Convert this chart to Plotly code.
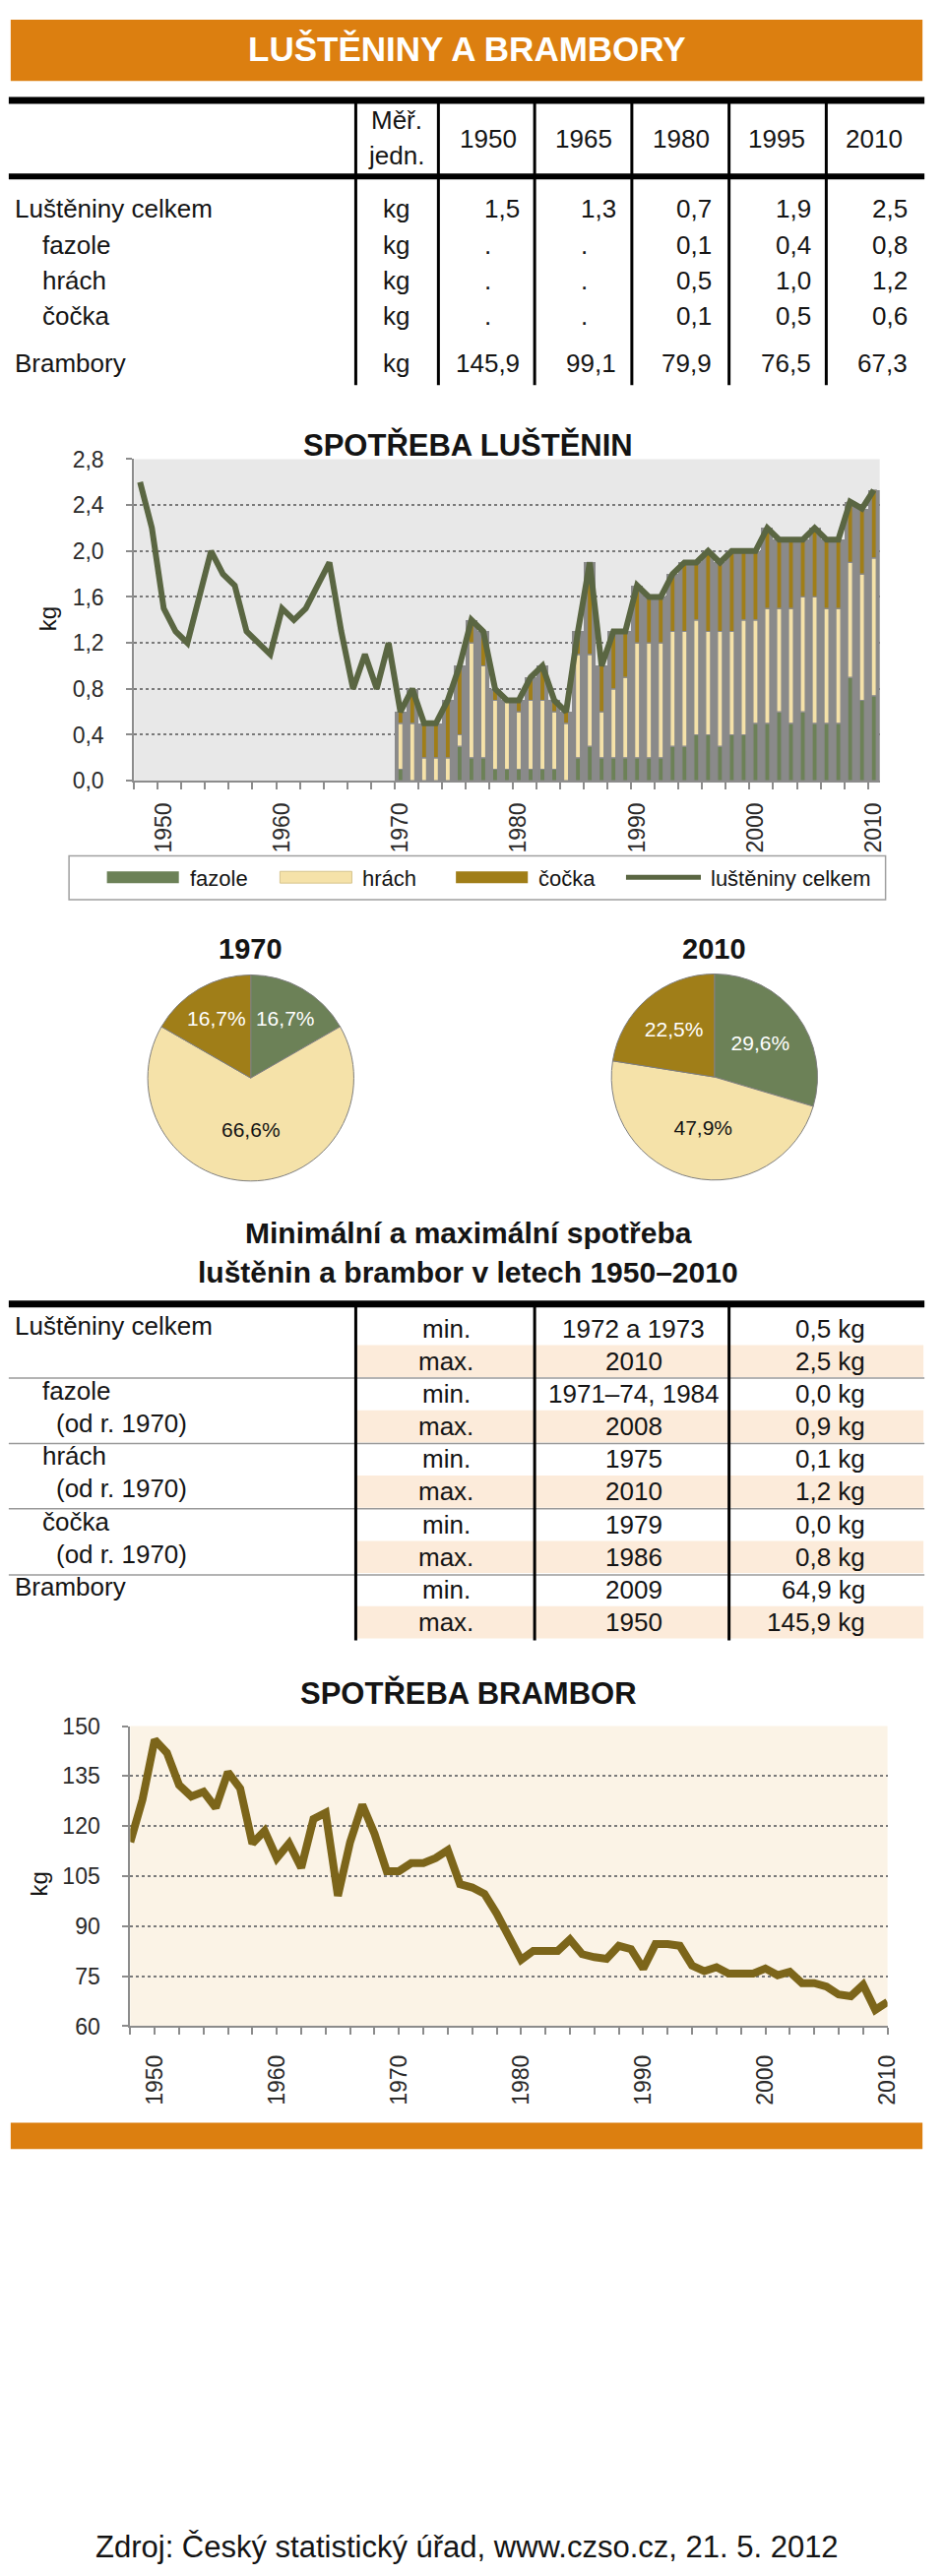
import plotly.graph_objects as go

# ---------------- DATA ----------------
# Table 1
t1_years = ["1950", "1965", "1980", "1995", "2010"]
t1_rows = ["Luštěniny celkem", "fazole", "hrách", "čočka", "Brambory"]
t1_indent = [False, True, True, True, False]
t1_unit = "kg"
t1_values = [
    [1.5, 1.3, 0.7, 1.9, 2.5],
    [None, None, 0.1, 0.4, 0.8],
    [None, None, 0.5, 1.0, 1.2],
    [None, None, 0.1, 0.5, 0.6],
    [145.9, 99.1, 79.9, 76.5, 67.3],
]

# Legumes total 1948-2010 (kg)
total_years = list(range(1948, 2011))
legumes_total = [2.6, 2.2, 1.5, 1.3, 1.2, 1.6, 2.0, 1.8, 1.7, 1.3,
                 1.2, 1.1, 1.5, 1.4, 1.5, 1.7, 1.9, 1.3, 0.8, 1.1,
                 0.8, 1.2, 0.6, 0.8, 0.5, 0.5, 0.7, 1.0, 1.4, 1.3,
                 0.8, 0.7, 0.7, 0.9, 1.0, 0.7, 0.6, 1.3, 1.9, 1.0,
                 1.3, 1.3, 1.7, 1.6, 1.6, 1.8, 1.9, 1.9, 2.0, 1.9,
                 2.0, 2.0, 2.0, 2.2, 2.1, 2.1, 2.1, 2.2, 2.1, 2.1,
                 2.43, 2.37, 2.53]

# Components 1970-2010 (kg)
bar_years = list(range(1970, 2011))
fazole = [0.1, 0.0, 0.0, 0.0, 0.0, 0.3, 0.2, 0.2, 0.1, 0.1,
          0.1, 0.1, 0.1, 0.1, 0.0, 0.2, 0.3, 0.2, 0.2, 0.2,
          0.2, 0.2, 0.2, 0.3, 0.3, 0.4, 0.4, 0.3, 0.4, 0.4,
          0.5, 0.5, 0.6, 0.5, 0.6, 0.5, 0.5, 0.5, 0.9, 0.7, 0.74]
hrach = [0.4, 0.5, 0.2, 0.2, 0.2, 0.1, 1.0, 0.8, 0.6, 0.6,
         0.5, 0.6, 0.6, 0.5, 0.5, 0.9, 0.8, 0.4, 0.6, 0.7,
         1.0, 1.0, 1.0, 1.0, 1.0, 1.0, 0.9, 1.0, 0.9, 1.0,
         0.9, 1.0, 0.9, 1.0, 1.0, 1.1, 1.0, 1.0, 1.0, 1.1, 1.2]
cocka = [0.1, 0.3, 0.3, 0.3, 0.5, 0.6, 0.2, 0.3, 0.1, 0.0,
         0.1, 0.2, 0.3, 0.1, 0.1, 0.2, 0.8, 0.4, 0.5, 0.4,
         0.5, 0.4, 0.4, 0.5, 0.6, 0.5, 0.7, 0.6, 0.7, 0.6,
         0.6, 0.7, 0.6, 0.6, 0.5, 0.6, 0.6, 0.6, 0.53, 0.57, 0.59]
legend_names = ["fazole", "hrách", "čočka", "luštěniny celkem"]

# Pies (shares, %)
pie_titles = ["1970", "2010"]
pie_1970 = [16.7, 66.6, 16.7]
pie_2010 = [29.6, 47.9, 22.5]

# Min / max table
mm_title = ["Minimální a maximální spotřeba", "luštěnin a brambor v letech 1950–2010"]
mm_labels = ["Luštěniny celkem", "", "fazole", "(od r. 1970)", "hrách", "(od r. 1970)",
             "čočka", "(od r. 1970)", "Brambory", ""]
mm_level = [0, 0, 1, 2, 1, 2, 1, 2, 0, 0]
mm_kind = ["min.", "max."] * 5
mm_years = ["1972 a 1973", "2010", "1971–74, 1984", "2008", "1975", "2010",
            "1979", "1986", "2009", "1950"]
mm_values = [0.5, 2.5, 0.0, 0.9, 0.1, 1.2, 0.0, 0.8, 64.9, 145.9]

# Potatoes 1948-2010 (kg)
potato_years = list(range(1948, 2011))
potatoes = [115.2, 127.9, 145.9, 142.0, 132.3, 128.9, 130.3, 125.5, 136.2, 131.3,
            114.8, 118.6, 110.4, 114.8, 107.5, 122.1, 124.0, 99.1, 115.2, 126.4,
            117.7, 106.5, 106.5, 108.9, 108.9, 110.4, 112.8, 102.6, 101.6, 99.7,
            93.8, 86.5, 79.9, 82.6, 82.6, 82.6, 86.0, 81.6, 80.7, 80.2,
            84.1, 83.1, 77.3, 84.6, 84.6, 84.1, 78.2, 76.5, 77.7, 75.8,
            75.8, 75.8, 77.3, 75.3, 76.3, 72.9, 72.9, 71.9, 69.5, 69.0,
            72.4, 64.9, 67.3]

main_title = "LUŠTĚNINY A BRAMBORY"
chart1_title = "SPOTŘEBA LUŠTĚNIN"
chart2_title = "SPOTŘEBA BRAMBOR"
source_text = "Zdroj: Český statistický úřad, www.czso.cz, 21. 5. 2012"

# ---------------- STYLE ----------------
W, H = 960, 2617
FONT = "Liberation Sans, Arial, sans-serif"
ORANGE = "#DC7F10"
GREEN = "#6C8157"
BEIGE = "#F5E2A9"
OLIVE = "#A07E18"
LINEG = "#5A6642"
POT = "#7C651A"
GRAYBAR = "#8A8A8A"
BG1 = "#E8E8E8"
BG2 = "#FBF3E6"
SHADE = "#FCEBDA"
AX = "#8C8C8C"
TXT = "#141414"
TS = 26  # table font size


def px(x):
    return x / W


def py(y):
    return 1 - y / H


def fmt(v):
    return f"{v:.1f}".replace(".", ",")


annotations = []
shapes = []


def text(x, y, s, size=TS, bold=False, color=TXT, anchor="left", angle=0):
    annotations.append(dict(
        x=px(x), y=py(y), xref="paper", yref="paper",
        text=f"<b>{s}</b>" if bold else s, showarrow=False,
        xanchor=anchor, yanchor="middle", textangle=angle,
        font=dict(size=size, color=color, family=FONT)))


def line(x0, y0, x1, y1, w, color):
    shapes.append(dict(type="line", xref="paper", yref="paper",
                       x0=px(x0), y0=py(y0), x1=px(x1), y1=py(y1),
                       line=dict(color=color, width=w)))


def rect(x0, y0, x1, y1, fill, lc=None, lw=0):
    shapes.append(dict(type="rect", xref="paper", yref="paper",
                       x0=px(x0), y0=py(y0), x1=px(x1), y1=py(y1),
                       fillcolor=fill, line=dict(color=lc or fill, width=lw)))


# ---------------- HEADER ----------------
rect(11, 7, 949, 70, ORANGE)
text(480, 37, main_title, size=35, bold=True, color="white", anchor="center")

# ---------------- TABLE 1 ----------------
line(9, 90, 951, 90, 7, "#000")
line(9, 168, 951, 168, 6, "#000")
for vx in [366, 451, 550, 650, 750, 850]:
    line(vx, 93, vx, 382, 3, "#000")
text(408, 110, "Měř.", anchor="center")
text(408, 146, "jedn.", anchor="center")
col_centers = [502, 601, 701, 799, 899]
col_right = [537, 636, 734, 836, 936]
for cx, yr in zip(col_centers, t1_years):
    text(cx, 129, yr, anchor="center")
row_y = [201, 238, 275, 311, 360]
for ry, name, ind, vals in zip(row_y, t1_rows, t1_indent, t1_values):
    text(42 if ind else 13, ry, name)
    text(408, ry, t1_unit, anchor="center")
    for cx, rx, v in zip(col_centers, col_right, vals):
        if v is None:
            text(cx, ry, ".", anchor="center")
        else:
            text(rx, ry, fmt(v), anchor="right")

# ---------------- CHART 1 ----------------
text(482, 443, chart1_title, size=31, bold=True, anchor="center")
text(49, 622, "kg", size=24, angle=-90, anchor="center")
shapes.append(dict(type="rect", xref="x domain", yref="y domain", x0=0, x1=1, y0=0, y1=1,
                   fillcolor=BG1, line=dict(width=0), layer="below"))

bar_tot = [f + h + c for f, h, c in zip(fazole, hrach, cocka)]
base_h = list(fazole)
base_c = [f + h for f, h in zip(fazole, hrach)]

traces = []
traces.append(go.Bar(x=bar_years, y=bar_tot, width=1.0, marker=dict(color=GRAYBAR, line=dict(width=0)),
                     xaxis="x", yaxis="y", hoverinfo="skip"))
for vals, base, col, nm in [(fazole, [0] * len(fazole), GREEN, legend_names[0]),
                            (hrach, base_h, BEIGE, legend_names[1]),
                            (cocka, base_c, OLIVE, legend_names[2])]:
    traces.append(go.Bar(x=bar_years, y=vals, base=base, width=0.42, name=nm,
                         marker=dict(color=col, line=dict(color=GRAYBAR, width=1.2)),
                         xaxis="x", yaxis="y"))
traces.append(go.Scatter(x=total_years, y=legumes_total, mode="lines", name=legend_names[3],
                         line=dict(color=LINEG, width=6), xaxis="x", yaxis="y"))

# custom legend
rect(71, 865, 911, 910, "white", "#A0A0A0", 1.5)
rect(110, 881, 184, 893, GREEN)
rect(288, 881, 362, 893, BEIGE, "#D6C48E", 1)
rect(469, 881, 543, 893, OLIVE)
line(644, 887, 721, 887, 5, LINEG)
for lx, nm in zip([193, 371, 552, 729], legend_names):
    text(lx, 888, nm, size=22)

# ---------------- PIES ----------------
pie_cols = [GREEN, BEIGE, OLIVE]
pie_txt = ["white", TXT, "white"]
R = 106
for (cx, cy), vals, ttl in [((258, 1093), pie_1970, pie_titles[0]), ((735, 1092), pie_2010, pie_titles[1])]:
    text(cx, 961, ttl, size=29, bold=True, anchor="center")
    traces.append(go.Pie(values=vals, labels=legend_names[:3], sort=False, direction="clockwise",
                         rotation=0, marker=dict(colors=pie_cols, line=dict(color="#7F7F7F", width=1)),
                         textinfo="none", texttemplate="%{value:.1f}%", textposition="inside",
                         insidetextorientation="horizontal",
                         textfont=dict(size=21, color=pie_txt, family=FONT),
                         domain=dict(x=[px(cx - R), px(cx + R)], y=[py(cy + R), py(cy - R)]),
                         showlegend=False, hoverinfo="skip"))

# ---------------- MIN / MAX TABLE ----------------
text(482, 1252, mm_title[0], size=30, bold=True, anchor="center")
text(482, 1292, mm_title[1], size=30, bold=True, anchor="center")
mm_y0, mm_step = 1350, 33.5
for i in range(len(mm_labels)):
    ry = mm_y0 + i * mm_step
    if mm_kind[i] == "max.":
        rect(367, ry - 16.5, 950, ry + 16.5, SHADE)
for sy in [1401, 1468, 1535, 1603]:
    line(9, sy, 951, sy, 1.5, "#9A9A9A")
line(9, 1325, 951, 1325, 7, "#000")
for vx in [366, 550, 750]:
    line(vx, 1328, vx, 1670, 3, "#000")
lvl_x = [13, 42, 56]
for i in range(len(mm_labels)):
    ry = mm_y0 + i * mm_step
    if mm_labels[i]:
        text(lvl_x[mm_level[i]], ry - 3, mm_labels[i])
    text(459, ry, mm_kind[i], anchor="center")
    text(652, ry, mm_years[i], anchor="center")
    text(892, ry, fmt(mm_values[i]) + " kg", anchor="right")

# ---------------- CHART 2 ----------------
text(482, 1724, chart2_title, size=31, bold=True, anchor="center")
text(40, 1920, "kg", size=24, angle=-90, anchor="center")
shapes.append(dict(type="rect", xref="x2 domain", yref="y2 domain", x0=0, x1=1, y0=0, y1=1,
                   fillcolor=BG2, line=dict(width=0), layer="below"))
traces.append(go.Scatter(x=potato_years, y=potatoes, mode="lines",
                         line=dict(color=POT, width=8), xaxis="x2", yaxis="y2"))

# ---------------- FOOTER ----------------
rect(11, 2165, 949, 2192, ORANGE)
text(480, 2600, source_text, size=31, anchor="center")

# ---------------- AXES ----------------
decades = list(range(1950, 2011, 10))
tickfont = dict(size=23, color="#2A2A2A", family=FONT)
yfont = dict(size=23, color="#2A2A2A", family=FONT)

xaxis1 = dict(domain=[px(138), px(905)], range=[1947.5, 2010.5], anchor="y",
              tickmode="array", tickvals=decades, ticktext=[str(d) for d in decades],
              tickangle=-90, ticks="", showline=True, linecolor=AX, linewidth=2,
              showgrid=False, zeroline=False, tickfont=tickfont, ticklabelstandoff=11,
              minor=dict(tickmode="array", tickvals=[1947.5 + 2 * k for k in range(32)],
                         ticks="outside", ticklen=7, tickwidth=2, tickcolor=AX, showgrid=False),
              fixedrange=True)
yaxis1 = dict(domain=[py(788), py(458)], range=[0, 2.8], anchor="x",
              tickmode="array", tickvals=[0.4 * k for k in range(8)],
              ticktext=[fmt(0.4 * k) for k in range(8)],
              ticks="outside", ticklen=6, tickwidth=2, tickcolor=AX,
              showline=True, linecolor=AX, linewidth=2, showgrid=True, gridcolor="#7A7A7A",
              gridwidth=2, griddash="dot", zeroline=False, tickfont=yfont,
              ticklabelstandoff=18, fixedrange=True)
xaxis2 = dict(domain=[px(134), px(913)], range=[1948, 2010], anchor="y2",
              tickmode="array", tickvals=decades, ticktext=[str(d) for d in decades],
              tickangle=-90, ticks="outside", ticklen=7, tickwidth=2, tickcolor=AX,
              showline=True, linecolor=AX, linewidth=2, showgrid=False, zeroline=False,
              tickfont=tickfont, ticklabelstandoff=11,
              minor=dict(tickmode="array", tickvals=list(range(1948, 2011, 2)),
                         ticks="outside", ticklen=7, tickwidth=2, tickcolor=AX, showgrid=False),
              fixedrange=True)
yaxis2 = dict(domain=[py(2066), py(1758)], range=[60, 150], anchor="x2",
              tickmode="array", tickvals=list(range(60, 151, 15)),
              ticks="outside", ticklen=6, tickwidth=2, tickcolor=AX,
              showline=True, linecolor=AX, linewidth=2, showgrid=True, gridcolor="#7A7A7A",
              gridwidth=2, griddash="dot", zeroline=False, tickfont=yfont,
              ticklabelstandoff=18, fixedrange=True)

fig = go.Figure(data=traces)
fig.update_layout(
    width=W, height=H, autosize=False, margin=dict(l=0, r=0, t=0, b=0, pad=0),
    paper_bgcolor="white", plot_bgcolor="rgba(0,0,0,0)", showlegend=False,
    barmode="overlay", bargap=0, separators=", ",
    font=dict(family=FONT, color=TXT),
    xaxis=xaxis1, yaxis=yaxis1, xaxis2=xaxis2, yaxis2=yaxis2,
    annotations=annotations, shapes=shapes,
)
fig.write_html("out.html", config={"displayModeBar": False, "staticPlot": True},
               post_script="document.body.style.margin='0';document.body.style.overflow='hidden';")
